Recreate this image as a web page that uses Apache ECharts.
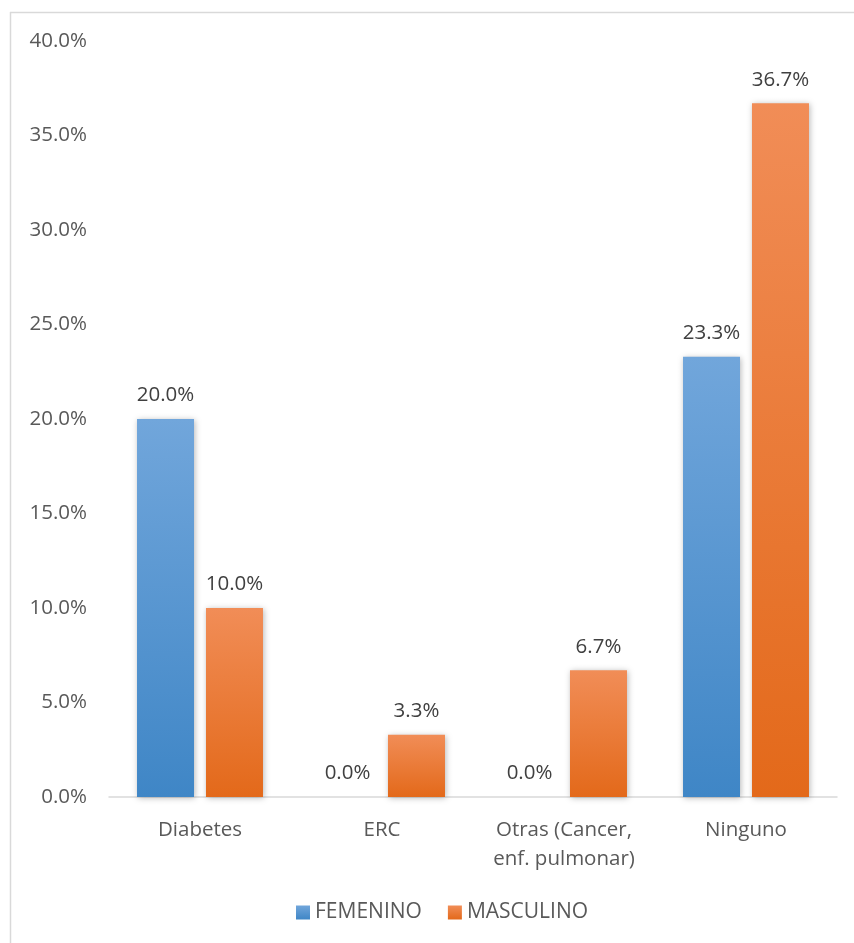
<!DOCTYPE html>
<html>
<head>
<meta charset="utf-8">
<script src="https://cdn.jsdelivr.net/npm/echarts@6/dist/echarts.min.js"></script>
<style>
  html, body { margin: 0; padding: 0; background: #fff; }
  #chart { width: 854px; height: 943px; }
</style>
</head>
<body>
<div id="chart"></div>
<script>
// Comorbidity categories and share of patients by sex (percent)
const categories = ['Diabetes', 'ERC', 'Otras (Cancer,\nenf. pulmonar)', 'Ninguno'];
const femenino = [20.0, 0.0, 0.0, 23.3];
const masculino = [10.0, 3.3, 6.7, 36.7];
const seriesNames = ['FEMENINO', 'MASCULINO'];

const FONT = '"Open Sans", "Noto Sans", sans-serif';
const FS = 20.5;

function grad(top, bottom) {
  return new echarts.graphic.LinearGradient(0, 0, 0, 1, [
    { offset: 0, color: top },
    { offset: 1, color: bottom }
  ]);
}

const blue = grad('#71A6DB', '#3F86C6');
const orange = grad('#F18D57', '#E3691A');

const chart = echarts.init(document.getElementById('chart'), null, { renderer: 'canvas' });

const labelCfg = {
  show: true,
  position: 'top',
  distance: 13,
  formatter: p => p.value.toFixed(1) + '%',
  color: '#404040',
  fontSize: FS,
  fontFamily: FONT
};

chart.setOption({
  animation: false,
  backgroundColor: '#fff',
  graphic: [
    { type: 'line', shape: { x1: 10.5, y1: 12, x2: 10.5, y2: 943 }, style: { stroke: '#D9D9D9', lineWidth: 1.5 } },
    { type: 'line', shape: { x1: 10, y1: 12.5, x2: 854, y2: 12.5 }, style: { stroke: '#D9D9D9', lineWidth: 1.5 } }
  ],
  grid: { left: 109, right: 17, top: 41, bottom: 146, containLabel: false },
  legend: {
    data: seriesNames,
    bottom: 15,
    left: 291,
    itemWidth: 14,
    itemHeight: 14,
    itemGap: 26,
    icon: 'rect',
    textStyle: { color: '#595959', fontSize: 21, fontFamily: FONT }
  },
  xAxis: {
    type: 'category',
    data: categories,
    axisLine: { show: true, lineStyle: { color: '#D9D9D9', width: 1.5 } },
    axisTick: { show: false },
    axisLabel: { interval: 0, color: '#595959', fontSize: FS, fontFamily: FONT, margin: 19, lineHeight: 29 }
  },
  yAxis: {
    type: 'value',
    min: 0,
    max: 40,
    interval: 5,
    axisLine: { show: false },
    axisTick: { show: false },
    splitLine: { show: false },
    axisLabel: {
      color: '#595959',
      fontSize: FS,
      fontFamily: FONT,
      margin: 22,
      formatter: v => v.toFixed(1) + '%'
    }
  },
  series: [
    {
      name: seriesNames[0],
      type: 'bar',
      data: femenino,
      barWidth: 57,
      barGap: '21%',
      itemStyle: { color: blue, shadowColor: 'rgba(0,0,0,0.28)', shadowBlur: 6, shadowOffsetX: 1, shadowOffsetY: 1 },
      label: labelCfg
    },
    {
      name: seriesNames[1],
      type: 'bar',
      data: masculino,
      barWidth: 57,
      barGap: '21%',
      itemStyle: { color: orange, shadowColor: 'rgba(0,0,0,0.28)', shadowBlur: 6, shadowOffsetX: 1, shadowOffsetY: 1 },
      label: labelCfg
    }
  ]
});
</script>
</body>
</html>
